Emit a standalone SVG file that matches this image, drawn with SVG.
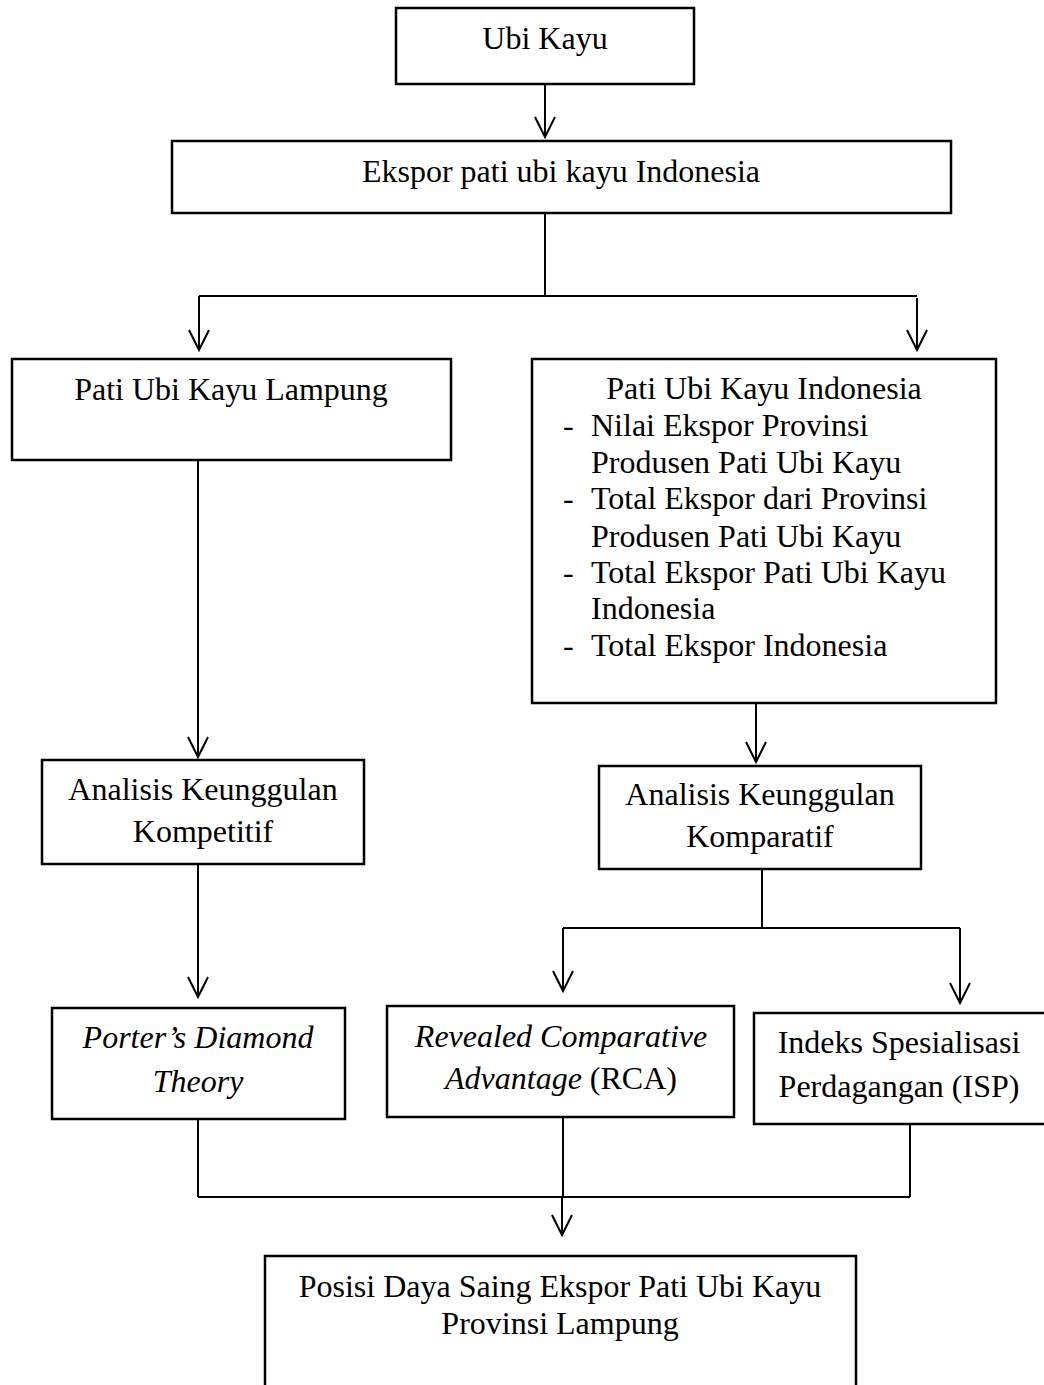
<svg xmlns="http://www.w3.org/2000/svg" width="1044" height="1385" viewBox="0 0 1044 1385">
<style>
.box{fill:none;stroke:#000;stroke-width:2.5}
.ln{fill:none;stroke:#000;stroke-width:2}
text{font-family:"Liberation Serif","Times New Roman",serif;font-size:32px;fill:#000}
.c{text-anchor:middle}
.i{font-style:italic}
</style>
<defs>
<marker id="arr" viewBox="-22 -12 24 24" refX="0" refY="0" markerWidth="24" markerHeight="24" markerUnits="userSpaceOnUse" orient="auto" overflow="visible">
<path d="M-20,-10 L0,0 L-20,10" fill="none" stroke="#000" stroke-width="2"/>
</marker>
</defs>
<rect width="1044" height="1385" fill="#fff"/>
<g id="connectors">
<path class="ln" d="M545,84 V137" marker-end="url(#arr)"/>
<path class="ln" d="M545,213 V296 M199,296 H917"/>
<path class="ln" d="M199,296 V350" marker-end="url(#arr)"/>
<path class="ln" d="M917,298 V350" marker-end="url(#arr)"/>
<path class="ln" d="M198,460 V757" marker-end="url(#arr)"/>
<path class="ln" d="M756,703 V762" marker-end="url(#arr)"/>
<path class="ln" d="M198,864 V997" marker-end="url(#arr)"/>
<path class="ln" d="M762,869 V928 M563,928 H960"/>
<path class="ln" d="M563,928 V991" marker-end="url(#arr)"/>
<path class="ln" d="M960,928 V1003" marker-end="url(#arr)"/>
<path class="ln" d="M198,1119 V1197 M563,1117 V1197 M910,1124 V1197 M198,1197 H910"/>
<path class="ln" d="M562,1197 V1235" marker-end="url(#arr)"/>
</g>
<g id="ubi-kayu">
<rect class="box" x="396" y="8" width="298" height="76"/>
<text class="c" x="545" y="49">Ubi Kayu</text>
</g>
<g id="ekspor">
<rect class="box" x="172" y="141" width="779" height="72"/>
<text class="c" x="561" y="182">Ekspor pati ubi kayu Indonesia</text>
</g>
<g id="lampung">
<rect class="box" x="12" y="359" width="439" height="101"/>
<text class="c" x="231" y="400">Pati Ubi Kayu Lampung</text>
</g>
<g id="indonesia">
<rect class="box" x="532" y="359" width="464" height="344"/>
<text class="c" x="764" y="399">Pati Ubi Kayu Indonesia</text>
<text x="563" y="436">-</text>
<text x="591" y="436">Nilai Ekspor Provinsi</text>
<text x="591" y="473">Produsen Pati Ubi Kayu</text>
<text x="563" y="509">-</text>
<text x="591" y="509">Total Ekspor dari Provinsi</text>
<text x="591" y="547">Produsen Pati Ubi Kayu</text>
<text x="563" y="583">-</text>
<text x="591" y="583">Total Ekspor Pati Ubi Kayu</text>
<text x="591" y="619">Indonesia</text>
<text x="563" y="656">-</text>
<text x="591" y="656">Total Ekspor Indonesia</text>
</g>
<g id="kompetitif">
<rect class="box" x="42" y="760" width="322" height="104"/>
<text class="c" x="203" y="800">Analisis Keunggulan</text>
<text class="c" x="203" y="842">Kompetitif</text>
</g>
<g id="komparatif">
<rect class="box" x="599" y="766" width="322" height="103"/>
<text class="c" x="760" y="805">Analisis Keunggulan</text>
<text class="c" x="760" y="847">Komparatif</text>
</g>
<g id="porter">
<rect class="box" x="52" y="1008" width="293" height="111"/>
<text class="c i" x="198" y="1048">Porter’s Diamond</text>
<text class="c i" x="198" y="1092">Theory</text>
</g>
<g id="rca">
<rect class="box" x="387" y="1006" width="347" height="111"/>
<text class="c i" x="561" y="1047">Revealed Comparative</text>
<text class="c" x="561" y="1089"><tspan class="i">Advantage</tspan> (RCA)</text>
</g>
<g id="isp">
<rect class="box" x="754" y="1013" width="300" height="111"/>
<text class="c" x="899" y="1053">Indeks Spesialisasi</text>
<text class="c" x="899" y="1097">Perdagangan (ISP)</text>
</g>
<g id="posisi">
<rect class="box" x="265" y="1256" width="591" height="200"/>
<text class="c" x="560" y="1297">Posisi Daya Saing Ekspor Pati Ubi Kayu</text>
<text class="c" x="560" y="1334">Provinsi Lampung</text>
</g>
</svg>
